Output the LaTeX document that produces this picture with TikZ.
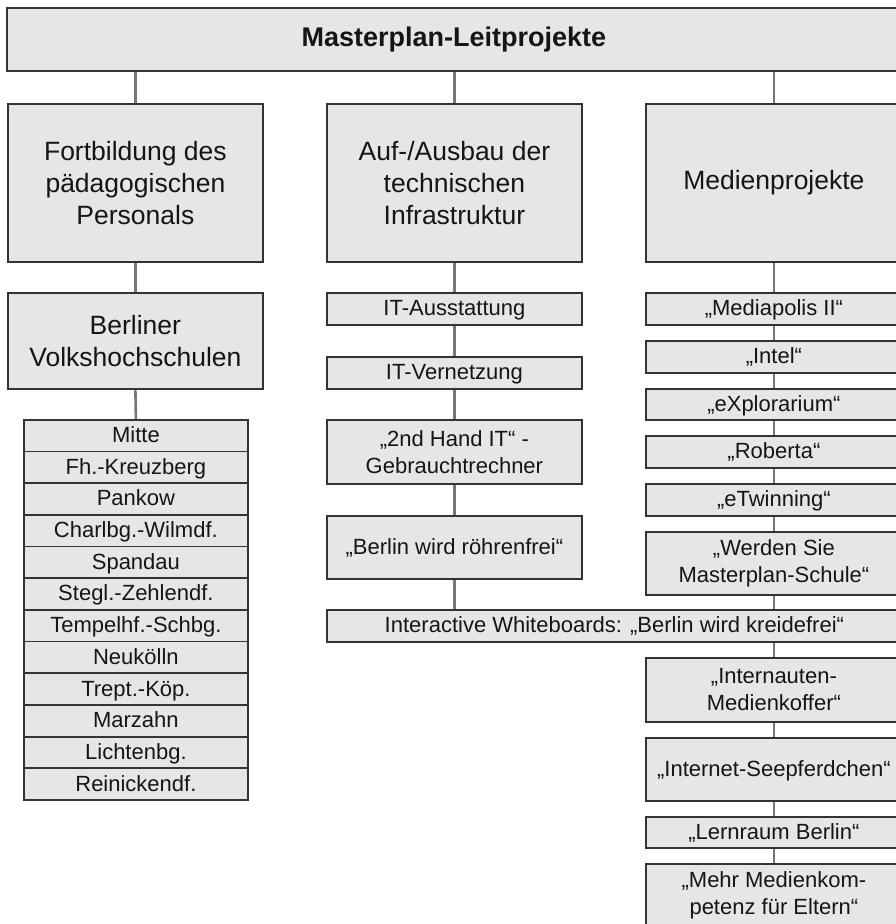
\documentclass[tikz,border=0pt]{standalone}
\usepackage{fontspec}
\setmainfont{Liberation Sans}
\definecolor{boxfill}{HTML}{E6E6E6}
\definecolor{boxline}{HTML}{333333}
\definecolor{conline}{HTML}{777777}
\definecolor{txt}{HTML}{151515}
\tikzset{
  box/.style={draw=boxline, fill=boxfill, line width=1.8pt, text=txt, align=center,
    inner sep=0pt, anchor=north west, font=\fontsize{22}{27}\selectfont},
  oneline/.style={box, text height=16pt, text depth=2.2pt},
  bigbox/.style={box, font=\fontsize{26.5}{32}\selectfont},
  titlebox/.style={box, font=\bfseries\fontsize{27}{32}\selectfont},
  con/.style={draw=conline, line width=2.6pt},
}
\begin{document}
\begin{tikzpicture}[x=1pt,y=-1pt]
\useasboundingbox (0,0) rectangle (896,924);
\fill[white] (0,0) rectangle (896,924);
\clip (0,0) rectangle (896,924);
% top
\node[titlebox, minimum width=894pt, minimum height=63pt] (top) at (6,7) {Masterplan-Leitprojekte};
% main columns
\node[bigbox, minimum width=255pt, minimum height=158pt] (c1) at (7,103) {Fortbildung des\\pädagogischen\\Personals};
\node[bigbox, minimum width=255pt, minimum height=158pt] (c2) at (326,103) {Auf-/Ausbau der\\technischen\\Infrastruktur};
\node[bigbox, minimum width=256pt, minimum height=158pt] (c3) at (645,103) {Medienprojekte};
% column 1
\node[bigbox, minimum width=255pt, minimum height=96pt] (berl) at (7,292) {Berliner\\Volkshochschulen};
\foreach \t [count=\i] in {Mitte,Fh.-Kreuzberg,Pankow,Charlbg.-Wilmdf.,Spandau,Stegl.-Zehlendf.,Tempelhf.-Schbg.,Neukölln,Trept.-Köp.,Marzahn,Lichtenbg.,Reinickendf.}{
  \node[oneline, minimum width=224pt, minimum height=31.67pt] (d\i) at (23,{419+(\i-1)*31.67}) {\t};
}
% column 2
\node[oneline, minimum width=255pt, minimum height=32pt] (itA) at (326,292) {IT-Ausstattung};
\node[oneline, minimum width=255pt, minimum height=32pt] (itV) at (326,356) {IT-Vernetzung};
\node[box, minimum width=255pt, minimum height=64pt] (hand) at (326,419) {„2nd Hand IT“ -\\Gebrauchtrechner};
\node[oneline, minimum width=255pt, minimum height=63pt] (roehr) at (326,515) {„Berlin wird röhrenfrei“};
\node[oneline, minimum width=575pt, minimum height=32pt] (wb) at (326,609) {Interactive Whiteboards: „Berlin wird kreidefrei“};
% column 3
\node[oneline, minimum width=256pt, minimum height=32pt] (medi) at (645,292) {„Mediapolis II“};
\node[oneline, minimum width=256pt, minimum height=32pt] (intel) at (645,340) {„Intel“};
\node[oneline, minimum width=256pt, minimum height=31pt] (explo) at (645,388) {„eXplorarium“};
\node[oneline, minimum width=256pt, minimum height=32pt] (rob) at (645,435) {„Roberta“};
\node[oneline, minimum width=256pt, minimum height=32pt] (etw) at (645,483) {„eTwinning“};
\node[box, minimum width=256pt, minimum height=63pt] (werd) at (645,531) {„Werden Sie\\Masterplan-Schule“};
\node[box, minimum width=256pt, minimum height=64pt] (intn) at (645,657) {„Internauten-\\Medienkoffer“};
\node[oneline, minimum width=256pt, minimum height=63pt] (seep) at (645,737) {„Internet-Seepferdchen“};
\node[oneline, minimum width=256pt, minimum height=31pt] (lern) at (645,816) {„Lernraum Berlin“};
\node[box, minimum width=256pt, minimum height=63pt] (mehr) at (645,863) {„Mehr Medienkom-\\petenz für Eltern“};
% connectors
\foreach \c in {c1,c2,c3}{ \draw[con] (top.south -| \c.north) -- (\c.north); }
\draw[con] (c1.south) -- (berl.north);
\draw[con] (berl.south) -- (d1.north);
\draw[con] (c2.south) -- (itA.north);
\draw[con] (itA.south) -- (itV.north);
\draw[con] (itV.south) -- (hand.north);
\draw[con] (hand.south) -- (roehr.north);
\draw[con] (roehr.south) -- (roehr.south |- wb.north);
\draw[con] (c3.south) -- (medi.north);
\draw[con] (medi.south) -- (intel.north);
\draw[con] (intel.south) -- (explo.north);
\draw[con] (explo.south) -- (rob.north);
\draw[con] (rob.south) -- (etw.north);
\draw[con] (etw.south) -- (werd.north);
\draw[con] (werd.south) -- (werd.south |- wb.north);
\draw[con] (wb.south -| intn.north) -- (intn.north);
\draw[con] (intn.south) -- (seep.north);
\draw[con] (seep.south) -- (lern.north);
\draw[con] (lern.south) -- (mehr.north);
\end{tikzpicture}
\end{document}
